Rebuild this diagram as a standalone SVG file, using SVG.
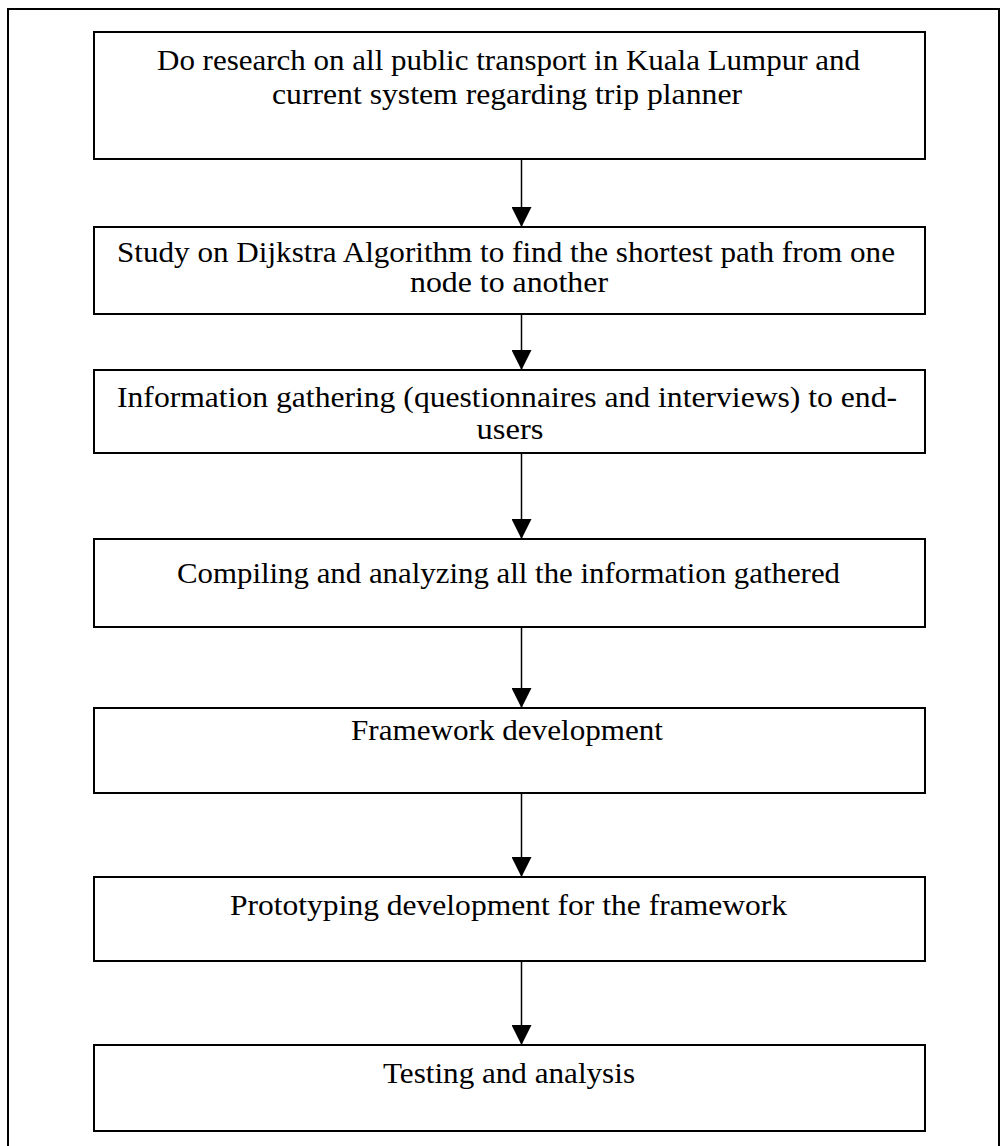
<svg xmlns="http://www.w3.org/2000/svg" width="1006" height="1146" viewBox="0 0 1006 1146">
  <style>
    .frame { fill: none; stroke: #000; stroke-width: 2; }
    .box { fill: #fff; stroke: #000; stroke-width: 2; }
    .label { font-family: "Liberation Serif", "Times New Roman", serif; font-size: 30px; fill: #000; text-anchor: middle; }
    .edge { fill: none; stroke: #000; stroke-width: 1.5; }
  </style>
  <defs>
    <marker id="arrow" markerUnits="userSpaceOnUse" markerWidth="22" markerHeight="20" refX="20" refY="10" orient="auto">
      <path d="M0,0 L20,10 L0,20 Z" fill="#000"/>
    </marker>
  </defs>

  <rect x="0" y="0" width="1006" height="1146" fill="#fff"/>

  <!-- outer page frame (open at the bottom) -->
  <path class="frame" d="M8,1146 V9 H999 V1146"/>

  <!-- connectors -->
  <g id="connectors">
    <line class="edge" x1="521.5" y1="159" x2="521.5" y2="227" marker-end="url(#arrow)"/>
    <line class="edge" x1="521.5" y1="314" x2="521.5" y2="370" marker-end="url(#arrow)"/>
    <line class="edge" x1="521.5" y1="453" x2="521.5" y2="539" marker-end="url(#arrow)"/>
    <line class="edge" x1="521.5" y1="627" x2="521.5" y2="708" marker-end="url(#arrow)"/>
    <line class="edge" x1="521.5" y1="793" x2="521.5" y2="877" marker-end="url(#arrow)"/>
    <line class="edge" x1="521.5" y1="961" x2="521.5" y2="1045" marker-end="url(#arrow)"/>
  </g>

  <g id="step1">
    <rect class="box" x="94" y="32" width="831" height="127"/>
    <text class="label" x="508.5" y="70" textLength="703" lengthAdjust="spacingAndGlyphs">Do research on all public transport in Kuala Lumpur and</text>
    <text class="label" x="507" y="104" textLength="470" lengthAdjust="spacingAndGlyphs">current system regarding trip planner</text>
  </g>

  <g id="step2">
    <rect class="box" x="94" y="227" width="831" height="87"/>
    <text class="label" x="506" y="262" textLength="778" lengthAdjust="spacingAndGlyphs">Study on Dijkstra Algorithm to find the shortest path from one</text>
    <text class="label" x="509" y="292" textLength="198" lengthAdjust="spacingAndGlyphs">node to another</text>
  </g>

  <g id="step3">
    <rect class="box" x="94" y="370" width="831" height="83"/>
    <text class="label" x="507" y="407" textLength="780" lengthAdjust="spacingAndGlyphs">Information gathering (questionnaires and interviews) to end-</text>
    <text class="label" x="510" y="439" textLength="67" lengthAdjust="spacingAndGlyphs">users</text>
  </g>

  <g id="step4">
    <rect class="box" x="94" y="539" width="831" height="88"/>
    <text class="label" x="508.5" y="583" textLength="663" lengthAdjust="spacingAndGlyphs">Compiling and analyzing all the information gathered</text>
  </g>

  <g id="step5">
    <rect class="box" x="94" y="708" width="831" height="85"/>
    <text class="label" x="507" y="740" textLength="312" lengthAdjust="spacingAndGlyphs">Framework development</text>
  </g>

  <g id="step6">
    <rect class="box" x="94" y="877" width="831" height="84"/>
    <text class="label" x="508.5" y="915" textLength="557" lengthAdjust="spacingAndGlyphs">Prototyping development for the framework</text>
  </g>

  <g id="step7">
    <rect class="box" x="94" y="1045" width="831" height="86"/>
    <text class="label" x="509" y="1083" textLength="252" lengthAdjust="spacingAndGlyphs">Testing and analysis</text>
  </g>
</svg>
